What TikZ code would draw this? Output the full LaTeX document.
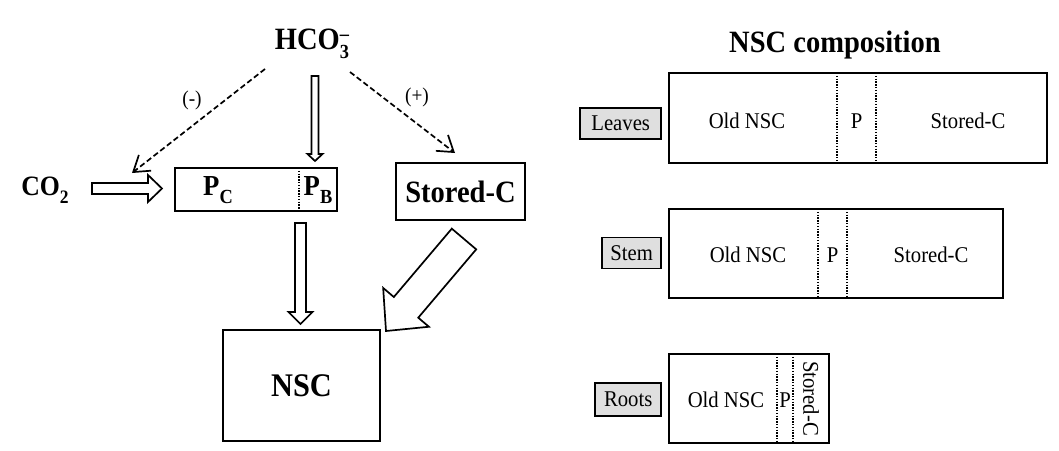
\documentclass[tikz,border=0pt]{standalone}
\usepackage{fontspec}
\setmainfont{Liberation Serif}[FakeStretch=0.92]
\usetikzlibrary{arrows.meta,calc}
\newcommand\hollowarrow[5]{%
  \coordinate (ha-h) at ($(#2)!#5!(#1)$);
  \draw[fatarrow] ($(#1)!#3!90:(#2)$) -- ($(ha-h)!#3!-90:(#1)$) -- ($(ha-h)!#4!-90:(#1)$) -- (#2) -- ($(ha-h)!#4!90:(#1)$) -- ($(ha-h)!#3!90:(#1)$) -- ($(#1)!#3!-90:(#2)$) -- cycle;}
\begin{document}
\begin{tikzpicture}[x=1pt,y=-1pt,
  box/.style={draw, line width=1.8pt, inner sep=0pt},
  lbl/.style={draw, line width=1.6pt, fill=gray!25, minimum height=31pt, inner sep=0pt, font=\fontsize{22.5}{22.5}\selectfont},
  inner/.style={font=\fontsize{22.5}{22.5}\selectfont},
  divider/.style={line width=1.4pt, dash pattern=on 1.4pt off 1.4pt},
  dasharrow/.style={line width=1.7pt, dash pattern=on 5.5pt off 3pt, -{Straight Barb[length=15pt,width=20pt,line width=1.7pt]}},
  fatarrow/.style={line width=1.7pt, fill=white, line join=miter},
  sign/.style={font=\fontsize{21}{21}\selectfont},
  bigb/.style={font=\fontsize{#1}{#1}\selectfont\bfseries}]
\useasboundingbox (0,0) rectangle (1059,450);

% left part
\node[bigb=31] (hco) at (312,44) {HCO\makebox[0pt][l]{\raisebox{0.3em}{\fontsize{20}{20}\selectfont –}}\raisebox{-0.3em}{\fontsize{20}{20}\selectfont 3}};
\node[bigb=28] (co2) at (45,190) {CO\raisebox{-0.28em}{\fontsize{19}{19}\selectfont 2}};
\node[box, minimum width=162pt, minimum height=43pt] (pbox) at (256,189.5) {};
\draw[divider] (299,168) -- (299,211);
\node[bigb=29] (pc) at (218,190) {P\raisebox{-0.28em}{\fontsize{20}{20}\selectfont C}};
\node[bigb=29] (pb) at (318,190) {P\raisebox{-0.28em}{\fontsize{20}{20}\selectfont B}};
\node[box, bigb=31, minimum width=129pt, minimum height=57pt] (stc) at (460.5,191.5) {Stored-C};
\node[box, bigb=33, minimum width=157pt, minimum height=111pt] (nsc) at (301.5,385.5) {NSC};
\node[sign] (minus) at (192,100) {(-)};
\node[sign] (plus) at (417,97) {(+)};

\coordinate (dls) at (265,69); \coordinate (dle) at (132,173);
\coordinate (drs) at (350,72); \coordinate (dre) at (455,153);
\draw[dasharrow] (dls) -- (dle);
\draw[dasharrow] (drs) -- (dre);

\coordinate (a1s) at (315,76); \coordinate (a1e) at (315,161);
\hollowarrow{a1s}{a1e}{3.5pt}{7.5pt}{7pt}
\coordinate (a2s) at (92,188.5); \coordinate (a2e) at (162,188.5);
\hollowarrow{a2s}{a2e}{5.5pt}{13.5pt}{14pt}
\coordinate (a3s) at (300.5,223); \coordinate (a3e) at (300.5,324);
\hollowarrow{a3s}{a3e}{5.5pt}{12pt}{12pt}
\coordinate (a4s) at (464,239); \coordinate (a4e) at (386,331);
\hollowarrow{a4s}{a4e}{16pt}{30pt}{31pt}

% right part
\node[bigb=31] (title) at (835,45) {NSC composition};

\node[box, minimum width=378pt, minimum height=90pt] (leafbox) at (858,118) {};
\draw[divider] (837,73) -- (837,163);
\draw[divider] (876,73) -- (876,163);
\node[inner] (l1) at (747,121) {Old NSC};
\node[inner] (l2) at (856.5,121) {P};
\node[inner] (l3) at (968,121) {Stored-C};
\node[lbl, minimum width=81pt, anchor=east] (leaves) at (662,123.5) {Leaves};

\node[box, minimum width=334pt, minimum height=89pt] (stembox) at (836,253.5) {};
\draw[divider] (818,209) -- (818,298);
\draw[divider] (847,209) -- (847,298);
\node[inner] (s1) at (748,255) {Old NSC};
\node[inner] (s2) at (832.5,255) {P};
\node[inner] (s3) at (931,255) {Stored-C};
\node[lbl, minimum width=59pt, anchor=east] (stem) at (662,253) {Stem};

\node[box, minimum width=160pt, minimum height=89pt] (rootbox) at (749,398.5) {};
\draw[divider] (777,354) -- (777,443);
\draw[divider] (793,354) -- (793,443);
\node[inner] (r1) at (726,400) {Old NSC};
\node[inner] (r2) at (785,400) {P};
\node[inner, rotate=-90] (r3) at (811,398.5) {Stored-C};
\node[lbl, minimum width=66pt, minimum height=33pt, anchor=east] (roots) at (662,399.5) {Roots};
\end{tikzpicture}
\end{document}
